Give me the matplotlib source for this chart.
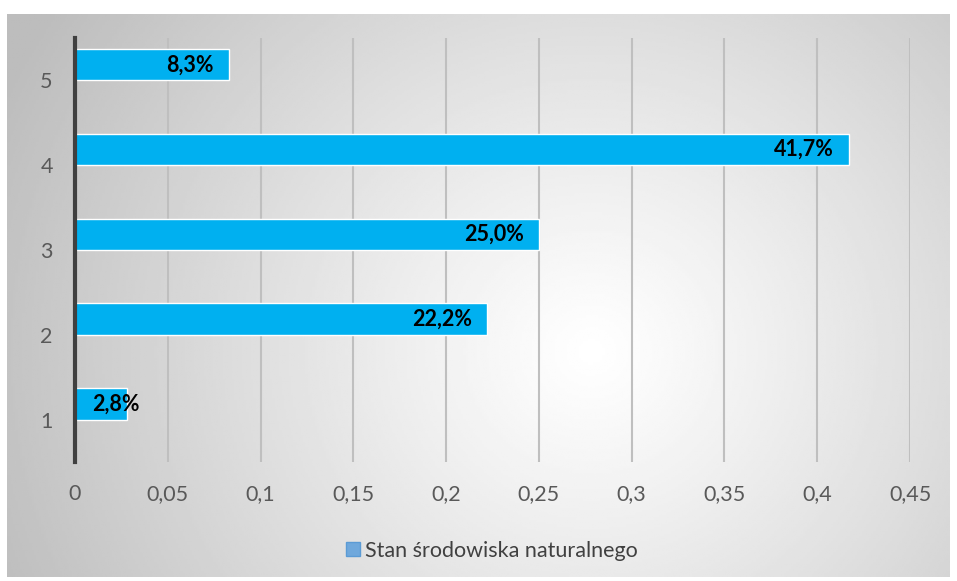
import matplotlib.pyplot as plt
import numpy as np

categories = ["1", "2", "3", "4", "5"]
values = [0.028, 0.222, 0.25, 0.417, 0.083]
labels = ["2,8%", "22,2%", "25,0%", "41,7%", "8,3%"]
xticks = [0, 0.05, 0.1, 0.15, 0.2, 0.25, 0.3, 0.35, 0.4, 0.45]
xtick_labels = ["0", "0,05", "0,1", "0,15", "0,2", "0,25", "0,3", "0,35", "0,4", "0,45"]
series_name = "Stan środowiska naturalnego"

plt.rcParams["font.family"] = ["Lato", "DejaVu Sans"]

W, H = 957, 581
fig = plt.figure(figsize=(W / 100, H / 100), dpi=100)
fig.patch.set_facecolor("white")

# chart area with radial gradient
cx0, cy0, cx1, cy1 = 7, 14, 950, 577
bg = fig.add_axes([cx0 / W, 1 - cy1 / H, (cx1 - cx0) / W, (cy1 - cy0) / H])
gx, gy = np.meshgrid(np.linspace(0, 1, 400), np.linspace(0, 1, 240))
r = np.hypot((gx - 0.62) * 1.6, (gy - 0.6) * 1.0)
shade = 1 - 0.26 * np.clip(r / 1.1, 0, 1) ** 1.1
bg.imshow(shade, cmap="gray", vmin=0, vmax=1, aspect="auto", extent=[0, 1, 0, 1], origin="upper")
bg.set_axis_off()

ax = fig.add_axes([75 / W, 1 - 462 / H, (910 - 75) / W, (462 - 38) / H])
ax.patch.set_alpha(0)
y = np.arange(len(categories))
# bars sit just above the category line (Excel cluster slot)
bars = ax.barh(y, values, height=0.37, align="edge", color="#00B0F0",
               edgecolor="white", linewidth=1, zorder=3)
for b, lab, v in zip(bars, labels, values):
    yc = b.get_y() + b.get_height() / 2
    if v < 0.05:
        # too short for the label: Excel pushes it right
        ax.annotate(lab, (0, yc), xytext=(12, 0), textcoords="offset points",
                    ha="left", va="center", fontsize=15.5, fontweight="bold", zorder=4)
    else:
        ax.annotate(lab, (v, yc), xytext=(-11, 0), textcoords="offset points",
                    ha="right", va="center", fontsize=15.5, fontweight="bold", zorder=4)

ax.set_xlim(0, 0.45)
ax.set_ylim(-0.5, len(categories) - 0.5)
ax.set_xticks(xticks)
ax.set_xticklabels(xtick_labels)
ax.set_yticks(y)
ax.set_yticklabels(categories)
ax.tick_params(axis="both", length=0, labelsize=15.5, labelcolor="#595959")
ax.tick_params(axis="x", pad=16)
ax.tick_params(axis="y", pad=16)
ax.grid(axis="x", color="#bfbfbf", linewidth=1.5, zorder=0)
for s in ["top", "right", "bottom"]:
    ax.spines[s].set_visible(False)
ax.spines["left"].set_color("#404040")
ax.spines["left"].set_linewidth(3)
ax.spines["left"].set_zorder(5)

handle = plt.Line2D([], [], marker="s", linestyle="none", markersize=10,
                    markerfacecolor="#6FA8DC", markeredgecolor="#5B9BD5")
fig.legend([handle], [series_name], loc="center", bbox_to_anchor=(490 / W, 1 - 551 / H),
           frameon=False, fontsize=15.5, labelcolor="#404040", handletextpad=0.1,
           handlelength=1.0)

fig.savefig("out.png", dpi=100)
